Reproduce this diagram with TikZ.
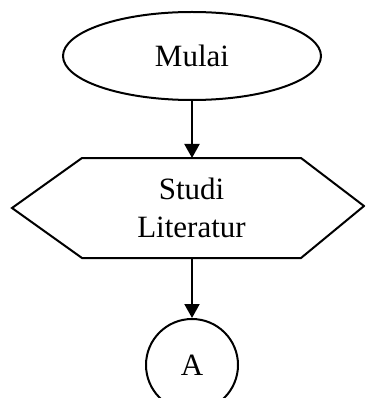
\documentclass[tikz,border=0pt]{standalone}
\usepackage{fontspec}
\setmainfont{Liberation Serif}
\usetikzlibrary{shapes.geometric,arrows.meta,calc}
\begin{document}
\begin{tikzpicture}[x=1pt,y=-1pt,
  line width=2pt,
  every node/.style={font=\fontsize{31}{38}\selectfont, inner sep=0pt},
  terminal/.style={ellipse, draw, minimum width=258pt, minimum height=88pt},
  process/.style={rectangle, minimum width=217pt, minimum height=98pt, align=center},
  connector/.style={circle, draw, minimum size=92pt},
  flow/.style={-{Triangle[length=14pt,width=15pt]}}]
  \useasboundingbox (0,0) rectangle (365,398);
  \clip (0,0) rectangle (365,398);

  % start terminal
  \node[terminal] (mulai) at (192,56) {Mulai};

  % preparation step (hexagon built around a text box)
  \node[process] (studi) at (191.5,208) {Studi\\Literatur};
  \coordinate (hexL) at (12,208);
  \coordinate (hexR) at (364,206);
  \draw[line join=miter] (studi.north west) -- (studi.north east) -- (hexR)
        -- (studi.south east) -- (studi.south west) -- (hexL) -- cycle;

  % off-page connector
  \node[connector] (a) at (192,365) {A};

  % flow lines
  \draw[flow] (mulai.south) -- (studi.north -| mulai.south);
  \draw[flow] (studi.south -| a.north) -- (a.north);
\end{tikzpicture}
\end{document}
